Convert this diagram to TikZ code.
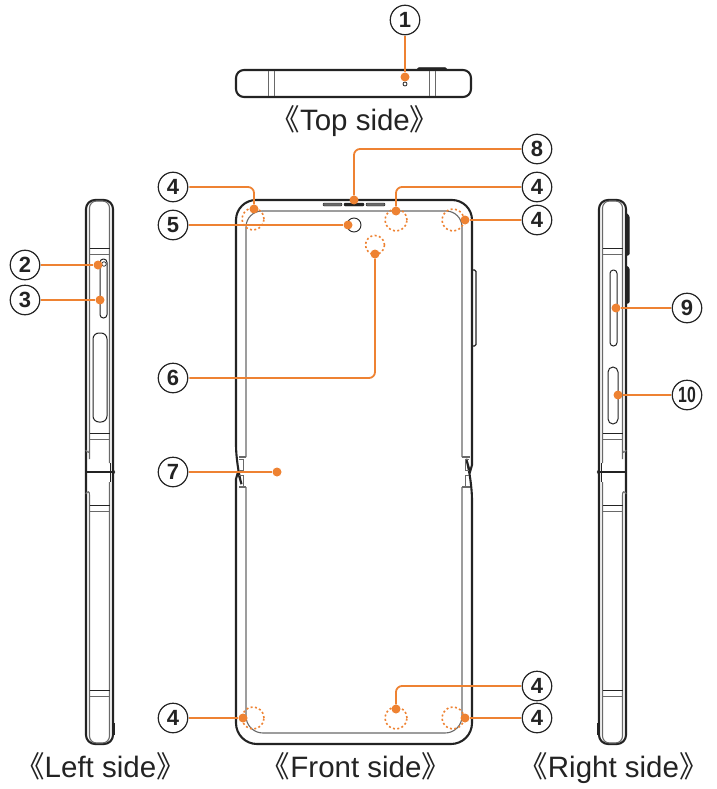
\documentclass[tikz,border=0pt]{standalone}
\usepackage{fontspec}
\setmainfont{Liberation Sans}
\newfontfamily\cjk{Noto Sans CJK JP}
\usepackage{tikz}
\definecolor{lead}{RGB}{238, 130, 50}
\definecolor{ink}{RGB}{35, 35, 35}
\definecolor{soft}{RGB}{105, 105, 105}

\begin{document}
\begin{tikzpicture}[
   x=1pt, y=-1pt,
   body/.style={draw=ink, line width=2.1},
   trim/.style={draw=soft, line width=1.1},
   seam/.style={draw=ink, line width=1},
   key/.style={draw=ink, fill=ink, line width=0.4},
   numcirc/.style={circle, draw=ink, line width=1.2, text=ink, inner sep=0,
                   minimum size=29.5, outer sep=1.5,
                   font=\fontsize{22}{22}\selectfont\bfseries},
   dotnode/.style={circle, fill=lead, inner sep=0, minimum size=9},
   ringnode/.style={circle, draw=lead, line width=1.6, dash pattern=on 2 off 2.4,
                    inner sep=0, minimum size=22},
   viewlab/.style={text=ink, inner sep=0, anchor=base, font=\fontsize{29.5}{30}\selectfont},
   leader/.style={draw=lead, line width=1.8, rounded corners=6}
  ]

  \useasboundingbox (0, 0) rectangle (716, 789);

  % Top side
  \draw[body, rounded corners=8] (236, 70) rectangle (471, 97);
  \foreach \X in {268, 274, 429, 435} {
    \draw[seam, draw=soft] (\X, 71) -- (\X, 96);
  }
  \draw[key, rounded corners=1] (417, 70) -- (418, 67.5) -- (446, 67.5) -- (447, 70) -- cycle;
  \node (H1) at (405, 84) [circle, draw=ink, line width=0.8, inner sep=0, minimum size=4] {};

  % Left side and right side
  \foreach \S/\K in {0/1, 712/-1} {
    \begin{scope}[shift={(\S, 0)}, xscale=\K]
      \draw[body, rounded corners=9] (86, 200) rectangle (113, 744);
      \draw[trim, rounded corners=7] (87, 452) -- (89.5, 456) -- (89.5, 452) -- (89.5, 201) -- (109.5, 201) -- (109.5, 463);
      \draw[trim, rounded corners=7] (87, 492) -- (89.5, 488) -- (89.5, 743) -- (109.5, 743) -- (109.5, 482);
      \foreach \Y in {248, 433, 505, 690} {
        \draw[seam] (89.5, \Y) -- (109.5, \Y);
        \draw[trim] (89.5, \Y + 6.5) -- (109.5, \Y + 6.5);
      }
      \draw[body, line width=2.2] (87, 472) -- (113, 472);
      \draw[key] (113, 469) -- (115, 472) -- (113, 475) -- cycle;
      \draw[seam] (110.5, 463) -- (110.5, 482);
      \draw[body, line width=2.6] (114, 723) -- (114, 735);
    \end{scope}
  }

  % Front side
  \draw[body] (236, 479) [rounded corners=21] -- (236, 744) -- (472, 744) -- (472, 479) [sharp corners]
    -- (470, 472) -- (472, 465) [rounded corners=20] -- (472, 200) -- (236, 200) -- (236, 465) [sharp corners]
    -- (238, 472) -- cycle;
  \draw[trim, rounded corners=16] (246, 457) -- (246, 211) -- (462, 211) -- (462, 457);
  \draw[trim, rounded corners=17] (246, 487) -- (246, 733) -- (462, 733) -- (462, 487);
  \foreach \S/\K in {0/1, 708/-1} {
    \begin{scope}[shift={(\S, 0)}, xscale=\K]
      \draw[trim] (246, 457) -- (238.5, 457) (246, 487) -- (238.5, 487);
      \draw[seam, draw=soft] (239, 459) -- (243, 459) -- (243, 470) -- (239, 470)
                             (239, 475) -- (243, 475) -- (243, 486) -- (239, 486);
    \end{scope}
  }
  \draw[draw=ink, fill=soft, line width=0.4, rounded corners=1] (323, 203) rectangle (342, 206);
  \draw[draw=ink, fill=ink, line width=0.4, rounded corners=1] (344, 203) rectangle (364, 206);
  \draw[draw=ink, fill=soft, line width=0.4, rounded corners=1] (366, 203) rectangle (385, 206);
  \node (H5) at (354, 225) [circle, draw=ink, line width=0.9, inner sep=0, minimum size=14] {};
  \draw[body, line width=1.1, rounded corners=1.5] (472, 270) -- (476, 270) -- (476, 346) -- (472, 346);

  % Left side holes
  \draw[seam, rounded corners=3.4] (100, 259) rectangle (107, 318);
  \node (H2) at (104, 264) [circle, draw=ink, line width=0.7, inner sep=0, minimum size=4.5] {};
  \draw[seam, rounded corners=6] (93, 333) rectangle (107, 422);

  % Right side keys
  \draw[key, line width=1, rounded corners=1] (626, 213) -- (629, 216) -- (629, 255) -- (626, 255) -- cycle;
  \draw[key, line width=1, rounded corners=1] (626, 266) -- (629, 268) -- (629, 303) -- (626, 303) -- cycle;
  \draw[seam, rounded corners=3.4] (610, 270) rectangle (617, 346);
  \draw[seam, rounded corners=5] (608, 367) rectangle (618, 424);

  % Rings
  \node (R1) at (253, 219) [ringnode] {};
  \node (R2) at (396, 220) [ringnode] {};
  \node (R3) at (453, 220) [ringnode] {};
  \node (R4) at (375, 245) [ringnode, minimum size=19] {};
  \node (R5) at (253, 718) [ringnode] {};
  \node (R6) at (396, 718) [ringnode] {};
  \node (R7) at (453, 718) [ringnode] {};

  % Numbers
  \node (C1) at (405, 20) [numcirc] {1};
  \node (C2) at (25, 265) [numcirc] {2};
  \node (C3) at (25, 300) [numcirc] {3};
  \node (C4a) at (173, 187) [numcirc] {4};
  \node (C4b) at (537, 187) [numcirc] {4};
  \node (C4c) at (537, 220) [numcirc] {4};
  \node (C4d) at (537, 686) [numcirc] {4};
  \node (C4e) at (537, 718) [numcirc] {4};
  \node (C4f) at (173, 718) [numcirc] {4};
  \node (C5) at (173, 225) [numcirc] {5};
  \node (C6) at (173, 378) [numcirc] {6};
  \node (C7) at (173, 472) [numcirc] {7};
  \node (C8) at (537, 149) [numcirc] {8};
  \node (C9) at (687, 308) [numcirc] {9};
  \node (C10) at (687, 395) [numcirc] {\scalebox{0.72}[1]{10}};

  % Dots
  \node (D1) at (405, 77) [dotnode] {};
  \node (D2) at (98, 265) [dotnode] {};
  \node (D3) at (100, 300) [dotnode] {};
  \node (D4a) at (254, 209) [dotnode] {};
  \node (D4b) at (396, 211) [dotnode] {};
  \node (D4c) at (465, 220) [dotnode] {};
  \node (D4d) at (396, 709) [dotnode] {};
  \node (D4e) at (465, 718) [dotnode] {};
  \node (D4f) at (243, 718) [dotnode] {};
  \node (D5) at (348, 225) [dotnode] {};
  \node (D6) at (375, 254) [dotnode] {};
  \node (D7) at (277, 472) [dotnode] {};
  \node (D8) at (354, 200) [dotnode] {};
  \node (D9) at (616, 308) [dotnode] {};
  \node (D10) at (618, 395) [dotnode] {};

  \foreach \B/\E in {C1/D1, C2/D2, C3/D3, C4c/D4c, C4e/D4e, C4f/D4f, C5/D5, C7/D7, C9/D9, C10/D10} {
    \draw[leader] (\B) -- (\E);
  }
  \foreach \B/\E in {C4a/D4a, C4b/D4b, C4d/D4d, C6/D6, C8/D8} {
    \draw[leader] (\B) -| (\E);
  }

  % Captions
  \node (L1) at (355, 131) [viewlab] {{\cjk 《}Top side{\cjk 》}};
  \node (L2) at (100.5, 777) [viewlab] {{\cjk 《}Left side{\cjk 》}};
  \node (L3) at (356, 777) [viewlab] {{\cjk 《}Front side{\cjk 》}};
  \node (L4) at (613.5, 777) [viewlab] {{\cjk 《}Right side{\cjk 》}};

\end{tikzpicture}
\end{document}
